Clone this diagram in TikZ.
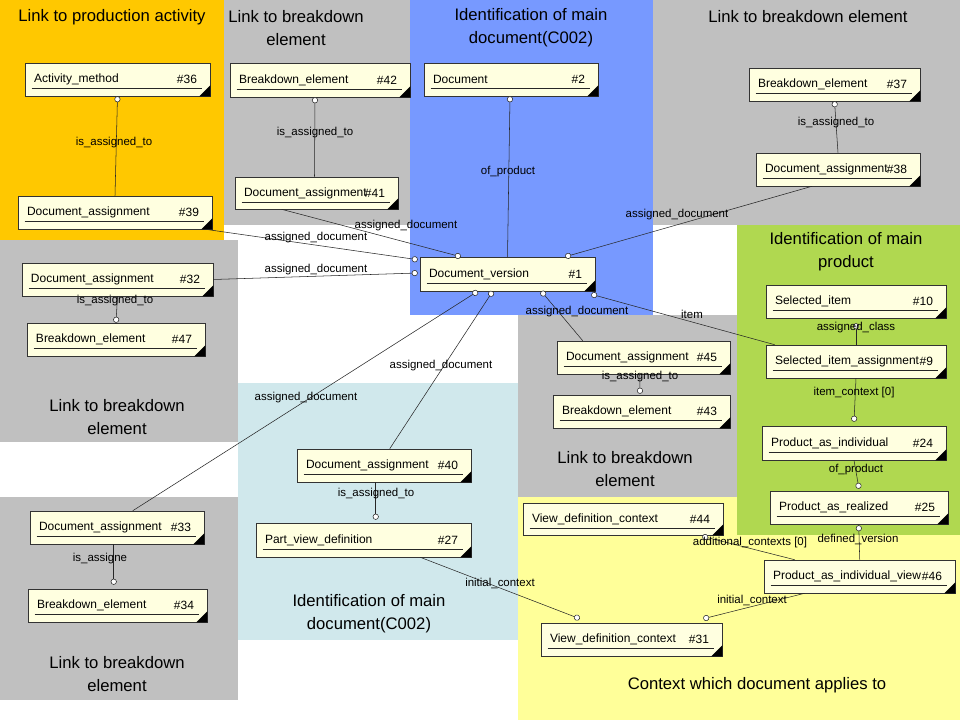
\documentclass[tikz,border=0pt]{standalone}
\usepackage{fontspec}
\setmainfont{Liberation Sans}
\usetikzlibrary{arrows.meta}
\definecolor{orng}{HTML}{FFC800}
\definecolor{gry}{HTML}{C0C0C0}
\definecolor{blu}{HTML}{7799FF}
\definecolor{grn}{HTML}{B0D850}
\definecolor{lblu}{HTML}{D0E8EC}
\definecolor{ylw}{HTML}{FFFF99}
\definecolor{entfill}{HTML}{FFFFE0}
\tikzset{
 ent/.style={draw=black!80, fill=entfill, inner sep=0pt},
 etxt/.style={font=\fontsize{9}{10}\selectfont, inner sep=0pt},
 lbl/.style={font=\fontsize{8.6}{10}\selectfont, inner sep=1pt},
 ttl/.style={font=\fontsize{12.5}{17}\selectfont, align=center},
 conn/.style={draw=black!85, -{Circle[open,fill=white,length=4.5pt]}},
 plain/.style={draw=black!85}
}
\newcommand\ent[7]{%
 \node[ent, minimum width={(#4-#2)*0.75pt}, minimum height={(#5-#3)*0.75pt}] (#1) at ({(#2+#4)/2},{(#3+#5)/2}) {};
 \node[etxt, anchor=west] (#1t) at ([shift={(9,0)}]#1.west) {#6};
 \node[etxt, anchor=east] (#1n) at ([shift={(-13,0)}]#1.east) {\##7};
 \draw[black!85] ([shift={(7,9)}]#1.west) -- ([shift={(-8,9)}]#1.east);
 \fill ([shift={(-11,0)}]#1.south east) -- (#1.south east) -- ([shift={(0,-11)}]#1.south east) -- cycle;
}
\begin{document}
\begin{tikzpicture}[x={(0.75pt,0)}, y={(0,-0.75pt)}]
\useasboundingbox (0,0) rectangle (960,720);
\fill[white] (0,0) rectangle (960,720);
% backgrounds
\fill[orng] (0,0) rectangle (224,240);
\fill[gry] (224,0) rectangle (410,225);
\fill[blu] (410,0) rectangle (653,315);
\fill[gry] (653,0) rectangle (960,225);
\fill[gry] (0,240) rectangle (238,442);
\fill[gry] (518,315) rectangle (737,497);
\fill[lblu] (238,383) rectangle (518,640);
\fill[gry] (0,497) rectangle (238,700);
\fill[ylw] (518,497) rectangle (960,720);
\fill[grn] (737,225) rectangle (960,535);
% titles
\node[ttl] (t1) at (112,17) {Link to production activity};
\node[ttl] (t2) at (296,28) {Link to breakdown\\element};
\node[ttl] (t3) at (531,28) {Identification of main\\document(C002)};
\node[ttl] (t4) at (808,17) {Link to breakdown element};
\node[ttl] (t5) at (846,252) {Identification of main\\product};
\node[ttl] (t6) at (117,417) {Link to breakdown\\element};
\node[ttl] (t7) at (625,469) {Link to breakdown\\element};
\node[ttl] (t8) at (117,674) {Link to breakdown\\element};
\node[ttl] (t9) at (369,614) {Identification of main\\document(C002)};
\node[ttl] (t10) at (757,685) {Context which document applies to};
% entities
\ent{e36}{25}{63}{210}{96}{Activity\_method}{36}
\ent{e39}{18}{196}{212}{229}{Document\_assignment}{39}
\ent{e42}{230}{63}{410}{97}{Breakdown\_element}{42}
\ent{e41}{235}{177}{398}{209}{Document\_assignment}{41}
\ent{e2}{424}{63}{598}{96}{Document}{2}
\ent{e37}{749}{68}{920}{101}{Breakdown\_element}{37}
\ent{e38}{756}{153}{920}{186}{Document\_assignment}{38}
\ent{e1}{420}{257}{595}{291}{Document\_version}{1}
\ent{e32}{22}{263}{213}{296}{Document\_assignment}{32}
\ent{e47}{27}{323}{205}{356}{Breakdown\_element}{47}
\ent{e10}{766}{285}{946}{318}{Selected\_item}{10}
\ent{e9}{766}{345}{946}{378}{Selected\_item\_assignment}{9}
\ent{e24}{762}{426}{946}{460}{Product\_as\_individual}{24}
\ent{e25}{770}{491}{948}{524}{Product\_as\_realized}{25}
\ent{e45}{557}{341}{730}{374}{Document\_assignment}{45}
\ent{e43}{553}{395}{730}{428}{Breakdown\_element}{43}
\ent{e40}{297}{449}{471}{482}{Document\_assignment}{40}
\ent{e27}{256}{523}{471}{557}{Part\_view\_definition}{27}
\ent{e33}{30}{511}{204}{544}{Document\_assignment}{33}
\ent{e34}{28}{589}{207}{622}{Breakdown\_element}{34}
\ent{e44}{523}{503}{723}{535}{View\_definition\_context}{44}
\ent{e46}{764}{560}{955}{593}{Product\_as\_individual\_view}{46}
\ent{e31}{541}{623}{722}{656}{View\_definition\_context}{31}
% connectors
\draw[conn] (e39.north) -- (e36.south);
\draw[conn] ([shift={(-2,0)}]e41.north) -- ([shift={(-5,0)}]e42.south);
\draw[conn] (e1.north) -- ([shift={(-1,0)}]e2.south);
\draw[conn] (e38.north) -- (e37.south);
\draw[conn] ([shift={(-26,0)}]e38.south) -- ([shift={(-30,0)}]e1.north east);
\draw[conn] ([shift={(-35,0)}]e41.south) -- ([shift={(41,0)}]e1.north west);
\draw[conn] ([shift={(-7,0)}]e39.south east) -- ([shift={(-2,3)}]e1.north west);
\draw[conn] (e32.east) -- ([shift={(-2,-1)}]e1.west);
\draw[conn] (e32.south) -- (e47.north);
\draw[conn] ([shift={(26,0)}]e45.north west) -- ([shift={(-54,0)}]e1.south east);
\draw[conn] ([shift={(9,0)}]e9.north west) -- ([shift={(-4,3)}]e1.south east);
\draw[conn] (e9.north) -- ([shift={(0,5)}]e10.south);
\draw[conn] (e9.south) -- ([shift={(0,-4)}]e24.north);
\draw[conn] (e24.south) -- ([shift={(0,-2)}]e25.north);
\draw[conn] ([shift={(83,0)}]e45.south west) -- ([shift={(0,-1)}]e43.north -| {640,0});
\draw[conn] ([shift={(93,0)}]e40.north west) -- ([shift={(73,0)}]e1.south west);
\draw[conn] ([shift={(103,0)}]e33.north west) -- ([shift={(58,0)}]e1.south west);
\draw[conn] ([shift={(79,0)}]e40.south west) -- ([shift={(120,-3)}]e27.north west);
\draw[conn] ([shift={(84,0)}]e33.south west) -- ([shift={(86,-4)}]e34.north west);
\draw[conn] ([shift={(-51,0)}]e27.south east) -- ([shift={(39,-4)}]e31.north west);
\draw[conn] ([shift={(31,0)}]e46.north west) -- ([shift={(-21,1)}]e44.south east);
\draw[conn] ([shift={(96,0)}]e46.north west) -- ([shift={(89,1)}]e25.south west);
\draw[conn] ([shift={(41,0)}]e46.south west) -- ([shift={(-19,-4)}]e31.north east);
% labels
\node[lbl] (l1) at (114,143) {is\_assigned\_to};
\node[lbl] (l2) at (315,133) {is\_assigned\_to};
\node[lbl] (l3) at (508,172) {of\_product};
\node[lbl] (l4) at (836,123) {is\_assigned\_to};
\node[lbl] (l5) at (677,215) {assigned\_document};
\node[lbl] (l6) at (406,226) {assigned\_document};
\node[lbl] (l7) at (316,238) {assigned\_document};
\node[lbl] (l8) at (316,270) {assigned\_document};
\node[lbl] (l9) at (115,301) {is\_assigned\_to};
\node[lbl] (l10) at (577,312) {assigned\_document};
\node[lbl] (l11) at (692,314) {item};
\node[lbl] (l12) at (856,328) {assigned\_class};
\node[lbl] (l13) at (854,393) {item\_context [0]};
\node[lbl] (l14) at (856,470) {of\_product};
\node[lbl] (l15) at (640,377) {is\_assigned\_to};
\node[lbl] (l16) at (441,366) {assigned\_document};
\node[lbl] (l17) at (306,398) {assigned\_document};
\node[lbl] (l18) at (376,494) {is\_assigned\_to};
\node[lbl] (l19) at (100,559) {is\_assigne};
\node[lbl] (l20) at (500,583) {initial\_context};
\node[lbl] (l21) at (750,543) {additional\_contexts [0]};
\node[lbl] (l22) at (858,539) {defined\_version};
\node[lbl] (l23) at (752,600) {initial\_context};
\end{tikzpicture}
\end{document}
